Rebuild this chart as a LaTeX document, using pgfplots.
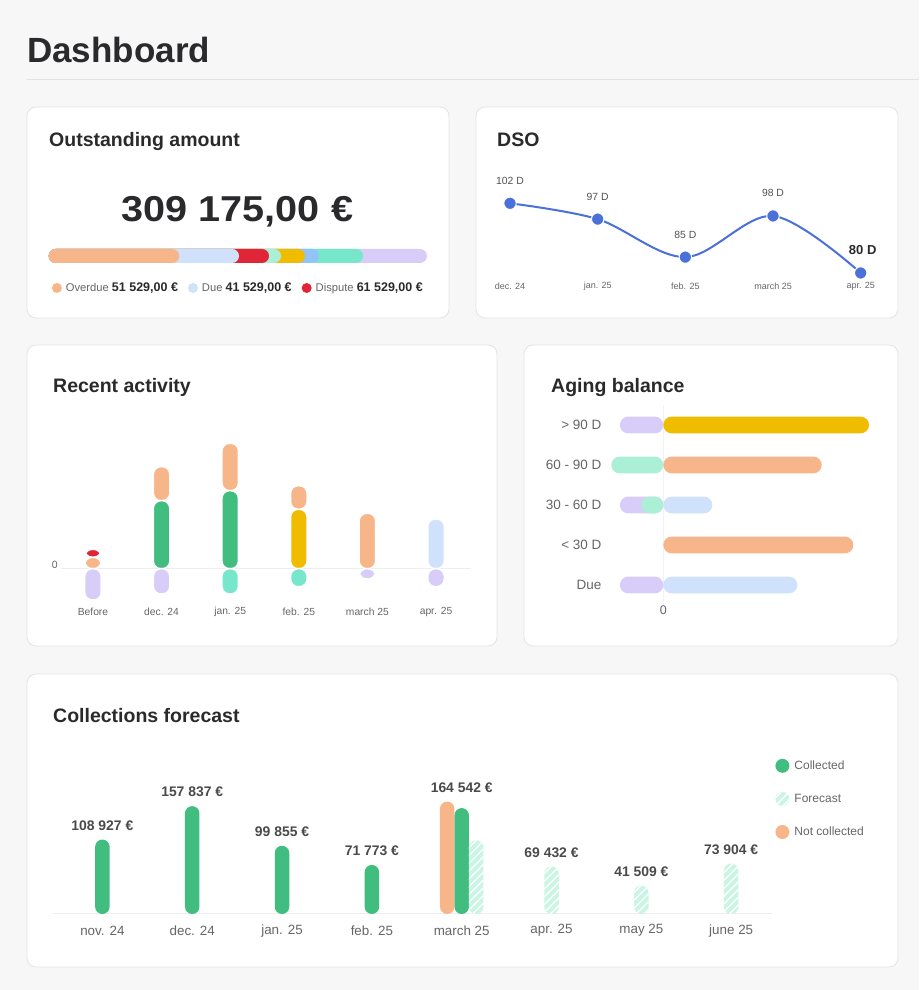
\documentclass[border=0pt]{standalone}
\usepackage{fontspec}
\setmainfont{Liberation Sans}
\usepackage{pgfplots}
\pgfplotsset{compat=1.18}
\usetikzlibrary{patterns.meta}
\newcommand{\fs}[1]{\fontsize{#1}{#1}\selectfont}
\definecolor{bg}{HTML}{F7F7F8}
\definecolor{cardb}{HTML}{E4E4E7}
\definecolor{hline}{HTML}{E2E2E5}
\definecolor{txt}{HTML}{2A2A2C}
\definecolor{gtxt}{HTML}{666669}
\definecolor{gridc}{HTML}{ECECF1}
\definecolor{cPeach}{HTML}{F7B68A}
\definecolor{cLblue}{HTML}{D0E1FC}
\definecolor{cRed}{HTML}{E02636}
\definecolor{cMint}{HTML}{AAEFD6}
\definecolor{cYel}{HTML}{F0BC00}
\definecolor{cSky}{HTML}{93C4F9}
\definecolor{cTeal}{HTML}{76E7CA}
\definecolor{cLav}{HTML}{D7CDF8}
\definecolor{cGrn}{HTML}{41BE7F}
\definecolor{cDso}{HTML}{4B70DA}
\definecolor{cFc}{HTML}{C8F5E4}
\pgfplotsset{
  dotlegend/.style={legend image code/.code={\fill[##1, draw=none] (#1,0pt) circle (#1);}},
}
\begin{document}
\begin{tikzpicture}[x=1pt,y=1pt]
\fill[bg] (0pt,0pt) rectangle (919pt,990pt);
\node[anchor=base west, inner sep=0pt, font=\fs{35}\bfseries, text=txt] at (27pt,927.3pt) {Dashboard};
\draw[hline, line width=1pt] (27pt,910pt) -- (919pt,910pt);
\tikzset{card/.style={fill=white, draw=cardb, line width=0.8pt, rounded corners=9pt},
  ttl/.style={anchor=base west, inner sep=0pt, font=\fs{19.5}\bfseries, text=txt}}
\path[card] (27pt,672pt) rectangle (449pt,883pt);
\path[card] (476pt,672pt) rectangle (898pt,883pt);
\path[card] (27pt,344pt) rectangle (497pt,645pt);
\path[card] (524pt,344pt) rectangle (898pt,645pt);
\path[card] (27pt,23pt) rectangle (898pt,316pt);
\node[ttl] at (49pt,843pt) {Outstanding amount};
\node[ttl] at (497pt,843pt) {DSO};
\node[ttl] at (53pt,597pt) {Recent activity};
\node[ttl] at (551pt,597pt) {Aging balance};
\node[ttl] at (53pt,267.7pt) {Collections forecast};
\node[anchor=base, inner sep=0pt, font=\fs{36}\bfseries, text=txt, xscale=1.1, transform shape] at (237.5pt,768pt) {309 175,00 €};

% ---------- Outstanding amount bar ----------
\begin{axis}[at={(48.7pt,727pt)}, anchor=south west, scale only axis,
  width=378.3pt, height=14pt, xmin=0, xmax=309175, ymin=-0.5, ymax=0.5,
  hide axis, clip=false, xbar,
  legend columns=3, reverse legend,
  legend style={at={(rel axis cs:0.0079,-1.786)}, anchor=west, draw=none, fill=none,
    inner sep=0pt, font=\fs{11.2}\color{gtxt},
    /tikz/every odd column/.append style={column sep=2pt},
    /tikz/every even column/.append style={column sep=8pt}}]
\addplot[fill=cLav, draw=none, rounded corners=7pt, bar width=14pt, bar shift=0pt, forget plot] coordinates {(309175,0)};
\addplot[fill=cTeal, draw=none, rounded corners=7pt, bar width=14pt, bar shift=0pt, forget plot] coordinates {(256870,0)};
\addplot[fill=cSky, draw=none, rounded corners=7pt, bar width=14pt, bar shift=0pt, forget plot] coordinates {(220910,0)};
\addplot[fill=cYel, draw=none, rounded corners=7pt, bar width=14pt, bar shift=0pt, forget plot] coordinates {(209470,0)};
\addplot[fill=cMint, draw=none, rounded corners=7pt, bar width=14pt, bar shift=0pt, forget plot] coordinates {(189860,0)};
\addplot[fill=cRed, draw=none, rounded corners=7pt, bar width=14pt, bar shift=0pt, dotlegend=5pt] coordinates {(180050,0)};
\addlegendentry{Dispute {\fs{12.5}\bfseries\color{txt}61 529,00 €}}
\addplot[fill=cLblue, draw=none, rounded corners=7pt, bar width=14pt, bar shift=0pt, dotlegend=5pt] coordinates {(155530,0)};
\addlegendentry{Due {\fs{12.5}\bfseries\color{txt}41 529,00 €}}
\addplot[fill=cPeach, draw=none, rounded corners=7pt, bar width=14pt, bar shift=0pt, dotlegend=5pt] coordinates {(106740,0)};
\addlegendentry{Overdue {\fs{12.5}\bfseries\color{txt}51 529,00 €}}
\end{axis}

% ---------- DSO ----------
\begin{axis}[at={(510pt,701.2pt)}, anchor=south west, scale only axis,
  width=350.7pt, height=95pt, xmin=0, xmax=4, ymin=75, ymax=105, clip=false,
  axis line style={draw=none}, major tick length=0pt, ytick=\empty,
  xtick={0,1,2,3,4}, xticklabels={dec. 24,jan. 25,feb. 25,march 25,apr. 25},
  xticklabel style={font=\fs{9}, text=gtxt, anchor=center, yshift=2.8pt}]
\addplot[cDso, line width=2pt, smooth, tension=0.55, mark=*, mark size=6.2pt,
  mark options={fill=cDso, draw=white, line width=1pt}] coordinates {(0,102)(1,97)(2,85)(3,98)(4,80)};
\node[font=\fs{10.4}, text=gtxt!80!black] at (axis cs:0,102) [yshift=22.7pt] {102 D};
\node[font=\fs{10.4}, text=gtxt!80!black] at (axis cs:1,97) [yshift=22.7pt] {97 D};
\node[font=\fs{10.4}, text=gtxt!80!black] at (axis cs:2,85) [yshift=22.7pt] {85 D};
\node[font=\fs{10.4}, text=gtxt!80!black] at (axis cs:3,98) [yshift=22.7pt] {98 D};
\node[font=\fs{13}\bfseries, text=txt] at (axis cs:4,80) [yshift=23.4pt, xshift=2pt] {80 D};
\end{axis}

% ---------- Recent activity (positive, stacked) ----------
\pgfplotsset{ra/.style={draw=white, line width=1.5pt, rounded corners=7.5pt, bar width=16.5pt}}
\begin{axis}[at={(61pt,386.3pt)}, anchor=south west, scale only axis,
  width=410pt, height=165pt, xmin=-0.466, xmax=5.51, ymin=-35, ymax=130, clip=false,
  axis line style={draw=none}, major tick length=0pt,
  xtick={0,1,2,3,4,5}, xticklabels={Before,dec. 24,jan. 25,feb. 25,march 25,apr. 25},
  xticklabel style={font=\fs{10.3}, text=gtxt, anchor=center, yshift=-8.6pt},
  ytick={0}, yticklabels={0}, yticklabel style={font=\fs{10.5}, text=gtxt, anchor=east, inner sep=0pt, xshift=-3pt, yshift=3.7pt},
  ymajorgrids, grid style={color=gridc, line width=1pt},
  ybar stacked]
\addplot[fill=cGrn, ra] coordinates {(0,0)(1,68)(2,78)(3,0)(4,0)(5,0)};
\addplot[fill=cYel, ra] coordinates {(0,0)(1,0)(2,0)(3,59.4)(4,0)(5,0)};
\addplot[fill=cLblue, ra] coordinates {(0,0)(1,0)(2,0)(3,0)(4,0)(5,49.7)};
\addplot[fill=cPeach, ra] coordinates {(0,11.4)(1,34)(2,47.4)(3,23.6)(4,55.4)(5,0)};
\addplot[fill=cRed, ra] coordinates {(0,8)(1,0)(2,0)(3,0)(4,0)(5,0)};
\end{axis}
% ---------- Recent activity (negative) ----------
\begin{axis}[at={(61pt,386.3pt)}, anchor=south west, scale only axis,
  width=410pt, height=165pt, xmin=-0.466, xmax=5.51, ymin=-35, ymax=130, clip=false,
  hide axis, ybar]
\addplot[fill=cLav, ra, bar shift=0pt] coordinates {(0,-31.3)(1,-25.3)(4,-10.3)(5,-18)};
\addplot[fill=cTeal, ra, bar shift=0pt] coordinates {(2,-25.3)(3,-18)};
\end{axis}

% ---------- Aging balance ----------
\pgfplotsset{ab/.style={draw=none, rounded corners=8.3pt, bar width=16.7pt, bar shift=0pt}}
\begin{axis}[at={(608.3pt,385pt)}, anchor=south west, scale only axis,
  width=265pt, height=200pt, xmin=-55, xmax=210, ymin=-0.5, ymax=4.5, clip=false,
  axis line style={draw=none}, major tick length=0pt,
  ytick={0,1,2,3,4}, yticklabels={Due,< 30 D,30 - 60 D,60 - 90 D,> 90 D},
  yticklabel style={font=\fs{13.5}, text=gtxt, anchor=east, inner sep=0pt, xshift=-6.6pt},
  xtick={0}, xticklabels={0}, xticklabel style={font=\fs{12.5}, text=gtxt, anchor=center, inner sep=0pt, yshift=-5pt},
  xmajorgrids, grid style={color=gridc!70!white, line width=0.8pt},
  xbar]
\addplot[fill=cLav, ab] coordinates {(-43.4,4)(-43.4,2)(-43.4,0)};
\addplot[fill=cMint, ab] coordinates {(-52,3)(-22,2)};
\addplot[fill=cYel, ab] coordinates {(205.7,4)};
\addplot[fill=cPeach, ab] coordinates {(158.4,3)(190,1)};
\addplot[fill=cLblue, ab] coordinates {(49,2)(134,0)};
\end{axis}

% ---------- Collections forecast ----------
\pgfplotsset{cb/.style={draw=none, rounded corners=7.25pt, bar width=14.5pt},
  fcst/.style={fill=cFc, postaction={pattern={Lines[angle=45, distance=5.5pt, line width=1.4pt]}, pattern color=white}}}
\begin{axis}[at={(52.7pt,76pt)}, anchor=south west, scale only axis,
  width=719pt, height=123pt, xmin=-0.553, xmax=7.451, ymin=0, ymax=180000, clip=false,
  axis line style={draw=none}, major tick length=0pt, scaled y ticks=false,
  xtick={0,...,7}, xticklabels={nov. 24,dec. 24,jan. 25,feb. 25,march 25,apr. 25,may 25,june 25},
  xticklabel style={font=\fs{13.4}, text=gtxt, anchor=center, yshift=-16.7pt},
  ytick={0}, yticklabels={}, ymajorgrids, grid style={color=gridc, line width=1pt},
  ybar,
  legend style={at={(rel axis cs:1.0049,1.264)}, anchor=north west, draw=none, fill=none,
    inner sep=0pt, row sep=19pt, font=\fs{12}\color{gtxt},
    /tikz/every odd column/.append style={column sep=3pt}},
  legend cell align=left]
\addplot[fill=cGrn, cb, bar shift=0pt, dotlegend=7pt] coordinates {(0,108927)(1,157837)(2,99855)(3,71773)(4,155000)};
\addplot[cb, fcst, bar shift=14.5pt, dotlegend=7pt] coordinates {(4,108000)};
\addplot[cb, fcst, bar shift=0pt, forget plot] coordinates {(5,69432)(6,41509)(7,73904)};
\addplot[fill=cPeach, cb, bar shift=-14.5pt, dotlegend=7pt] coordinates {(4,164542)};
\legend{Collected,Forecast,Not collected}
\tikzset{vl/.style={font=\fs{13.9}\bfseries, text=txt!85!white, yshift=14pt}}
\node[vl] at (axis cs:0,108927) {108 927 €};
\node[vl] at (axis cs:1,157837) {157 837 €};
\node[vl] at (axis cs:2,99855) {99 855 €};
\node[vl] at (axis cs:3,71773) {71 773 €};
\node[vl] at (axis cs:4,164542) {164 542 €};
\node[vl] at (axis cs:5,69432) {69 432 €};
\node[vl] at (axis cs:6,41509) {41 509 €};
\node[vl] at (axis cs:7,73904) {73 904 €};
\end{axis}
\end{tikzpicture}
\end{document}
